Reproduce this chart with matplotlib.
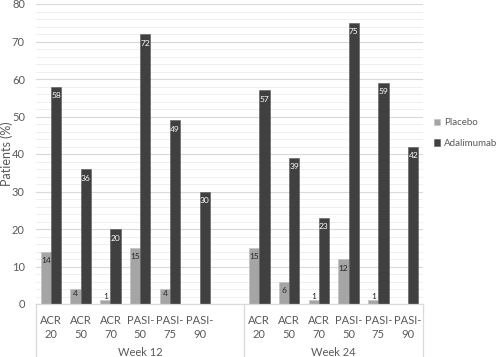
import numpy as np
import matplotlib
matplotlib.use("Agg")
import matplotlib.pyplot as plt

plt.rcParams['font.family'] = ['Lato', 'DejaVu Sans']

# data
weeks = ['Week 12', 'Week 24']
categories = ['ACR\n20', 'ACR\n50', 'ACR\n70', 'PASI-\n50', 'PASI-\n75', 'PASI-\n90']
placebo_w12 = [14, 4, 1, 15, 4, None]
adalimumab_w12 = [58, 36, 20, 72, 49, 30]
placebo_w24 = [15, 6, 1, 12, 1, None]
adalimumab_w24 = [57, 39, 23, 75, 59, 42]

c_placebo = '#a5a5a5'
c_adal = '#404040'
grid_c = '#d9d9d9'
text_c = '#595959'

fig = plt.figure(figsize=(4.97, 3.57), dpi=100)
ax = fig.add_axes([36 / 497, 1 - 304 / 357, 387 / 497, 300 / 357])

# week 12 takes slots 0-5, slot 6 is empty, week 24 takes 7-12
x12 = np.arange(6)
x24 = np.arange(7, 13)
w = 0.345


def label_bars(xs, vals, dark):
    for x, v in zip(xs, vals):
        if v is None:
            continue
        if v >= 5:
            off, va = -4, 'top'
        elif v >= 2:
            off, va = -1, 'top'
        else:
            off, va = 0.5, 'bottom'
        ax.annotate(str(v), (x, v), xytext=(0, off), textcoords='offset points',
                    ha='center', va=va, fontsize=6,
                    color='white' if dark else '#262626')


for xs, pl, ad in [(x12, placebo_w12, adalimumab_w12), (x24, placebo_w24, adalimumab_w24)]:
    pl_vals = [0 if v is None else v for v in pl]
    ax.bar(xs - w / 2, pl_vals, w, color=c_placebo, edgecolor='#bfbfbf', linewidth=0.4,
           label='Placebo' if xs[0] == 0 else None)
    ax.bar(xs + w / 2, ad, w, color=c_adal, edgecolor='#595959', linewidth=0.4,
           label='Adalimumab' if xs[0] == 0 else None)
    label_bars(xs - w / 2, pl, False)
    label_bars(xs + w / 2, ad, True)

ax.set_xlim(-0.5, 12.5)
ax.set_ylim(0, 80)
ax.set_yticks(np.arange(0, 81, 10))
ax.set_yticks(np.arange(0, 81, 2), minor=True)
ax.grid(axis='y', which='major', color=grid_c, linewidth=0.8)
ax.grid(axis='y', which='minor', color='#ececec', linewidth=0.6)
ax.set_axisbelow(True)
for s in ['top', 'right', 'left']:
    ax.spines[s].set_visible(False)
ax.spines['bottom'].set_color(grid_c)
ax.spines['bottom'].set_linewidth(0.9)
ax.tick_params(axis='y', which='both', length=0, labelsize=8, labelcolor=text_c, pad=8)
ax.tick_params(axis='x', which='both', length=0)
ax.set_xticks(list(x12) + list(x24))
ax.set_xticklabels(categories + categories, fontsize=8, color=text_c, linespacing=1.3)
ax.tick_params(axis='x', pad=8)

# y title placed by hand at the left edge
fig.text(7 / 497, 1 - 154 / 357, 'Patients (%)', rotation=90, ha='center', va='center',
         fontsize=9, color=text_c)

# group separators and week labels below the axis
for xb in [-0.5, 6.5, 12.5]:
    ax.plot([xb, xb], [0, -0.18], transform=ax.get_xaxis_transform(),
            color=grid_c, linewidth=0.9, clip_on=False)
ax.text(np.mean(x12) + 0.5, -0.163, weeks[0], transform=ax.get_xaxis_transform(),
        ha='center', va='center', fontsize=8, color=text_c)
ax.text(np.mean(x24), -0.163, weeks[1], transform=ax.get_xaxis_transform(),
        ha='center', va='center', fontsize=8, color=text_c)

ax.legend(loc='center left', bbox_to_anchor=(427 / 497, 1 - 133 / 357),
          bbox_transform=fig.transFigure, frameon=False, fontsize=7,
          labelcolor=text_c, handlelength=0.65, handleheight=0.65,
          handletextpad=0.4, labelspacing=1.2, borderpad=0.2)

fig.savefig('out.png', dpi=100)
